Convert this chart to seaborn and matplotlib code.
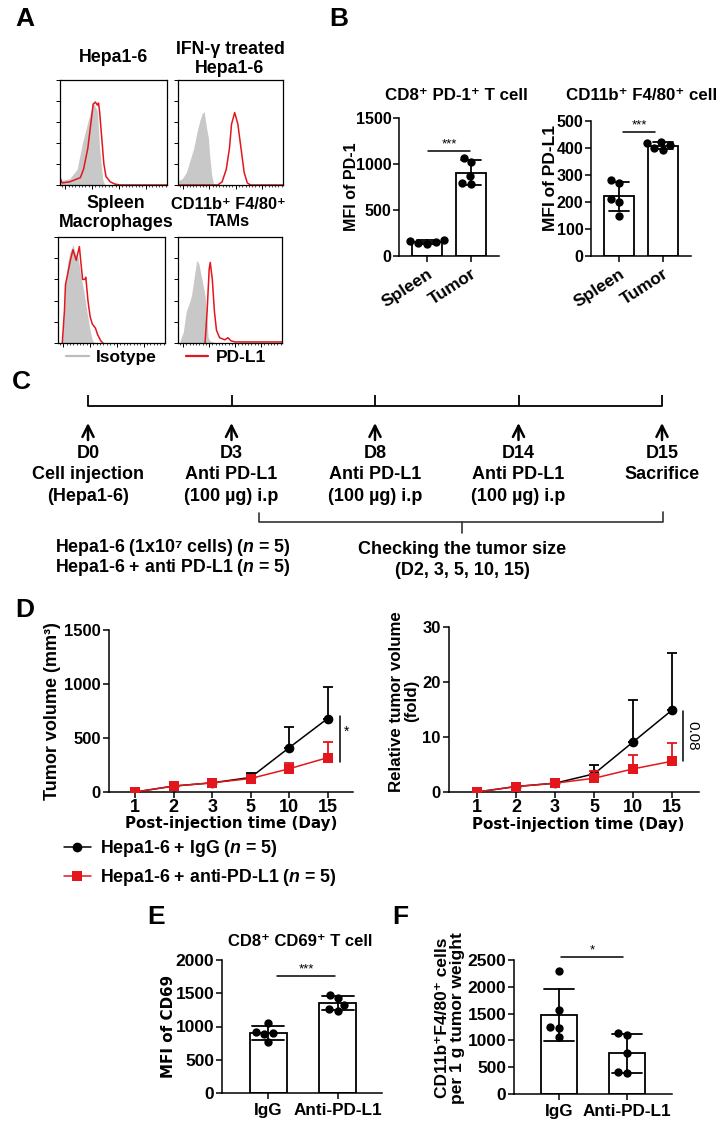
import numpy as np
import pandas as pd
import matplotlib
matplotlib.use("Agg")
import matplotlib.pyplot as plt
from matplotlib.lines import Line2D
from matplotlib.ticker import AutoMinorLocator
import seaborn as sns

sns.set_theme(style="ticks")
plt.rcParams["font.family"] = ["Liberation Sans", "DejaVu Sans"]
plt.rcParams["font.weight"] = "bold"
plt.rcParams["axes.labelweight"] = "bold"
plt.rcParams["mathtext.fontset"] = "custom"
plt.rcParams["mathtext.it"] = "Liberation Sans:italic:bold"
plt.rcParams["mathtext.rm"] = "Liberation Sans:bold"
plt.rcParams["axes.linewidth"] = 1.1
plt.rcParams["xtick.major.width"] = 1.1
plt.rcParams["ytick.major.width"] = 1.1
for k in ["xtick.color", "ytick.color", "axes.edgecolor", "text.color", "axes.labelcolor"]:
    plt.rcParams[k] = "black"

W, H = 728, 1126
WIDE = ["DejaVu Sans"]

# ---------------- Panel A: flow histograms (channel 0-100, normalised count) ----
a_titles = ["Hepa1-6", "IFN-γ treated\nHepa1-6", "Spleen\nMacrophages", "CD11b⁺ F4/80⁺\nTAMs"]
a1_iso_x = [0, 9, 16, 21, 26, 30, 31, 35, 37, 40, 42]
a1_iso_y = [0.04, 0.06, 0.15, 0.40, 0.60, 0.75, 0.79, 0.70, 0.35, 0.05, 0.0]
a1_pdl1_x = [0, 2, 9, 14, 19, 22, 26, 29, 31, 33, 35, 36, 37, 39, 41, 43, 47, 51, 56, 100]
a1_pdl1_y = [0.07, 0.02, 0.03, 0.05, 0.07, 0.15, 0.35, 0.60, 0.77, 0.79, 0.76, 0.78, 0.70, 0.45, 0.20, 0.08, 0.03, 0.01, 0.0, 0.0]
a2_iso_x = [0, 4, 8, 11, 15, 18, 21, 23, 25, 27, 29, 30, 32, 34]
a2_iso_y = [0.04, 0.06, 0.12, 0.22, 0.35, 0.50, 0.62, 0.68, 0.70, 0.55, 0.45, 0.30, 0.10, 0.0]
a2_pdl1_x = [0, 38, 42, 46, 49, 51, 54, 57, 60, 63, 66, 69, 100]
a2_pdl1_y = [0.0, 0.0, 0.03, 0.15, 0.35, 0.58, 0.69, 0.58, 0.35, 0.12, 0.02, 0.0, 0.0]
a3_iso_x = [4, 6, 7, 9, 11, 13, 14, 16, 19, 21, 24, 27, 30, 32, 34]
a3_iso_y = [0.0, 0.30, 0.55, 0.75, 0.85, 0.90, 0.93, 0.85, 0.80, 0.65, 0.50, 0.30, 0.12, 0.03, 0.0]
a3_pdl1_x = [4, 6, 7, 9, 12, 14, 17, 20, 21, 23, 25, 26, 28, 30, 32, 35, 37, 40, 42]
a3_pdl1_y = [0.0, 0.30, 0.55, 0.65, 0.80, 0.88, 0.78, 0.91, 0.80, 0.60, 0.60, 0.62, 0.40, 0.25, 0.18, 0.14, 0.08, 0.02, 0.0]
a4_iso_x = [2, 5, 8, 11, 13, 16, 18, 20, 23, 26, 28, 29, 31, 36]
a4_iso_y = [0.02, 0.10, 0.30, 0.38, 0.45, 0.65, 0.78, 0.75, 0.60, 0.45, 0.20, 0.05, 0.02, 0.0]
a4_pdl1_x = [26, 28, 30, 31, 33, 35, 37, 40, 45, 48, 51, 55, 100]
a4_pdl1_y = [0.0, 0.30, 0.70, 0.76, 0.60, 0.30, 0.12, 0.05, 0.03, 0.05, 0.02, 0.01, 0.01]

# ---------------- Panel B ----------------
b_groups = ["Spleen", "Tumor"]
b1_title = "CD8⁺ PD-1⁺ T cell"
b1_spleen = [140, 165, 150, 172, 132]
b1_tumor = [1070, 1020, 870, 780, 790]
b2_title = "CD11b⁺ F4/80⁺ cell"
b2_spleen = [280, 270, 210, 200, 150]
b2_tumor = [422, 418, 410, 400, 392]

# ---------------- Panel C ----------------
tl_days = ["D0", "D3", "D8", "D14", "D15"]
tl_text = [["Cell injection", "(Hepa1-6)"],
           ["Anti PD-L1", "(100 µg) i.p"],
           ["Anti PD-L1", "(100 µg) i.p"],
           ["Anti PD-L1", "(100 µg) i.p"],
           ["Sacrifice", ""]]

# ---------------- Panel D ----------------
d_days = ["1", "2", "3", "5", "10", "15"]
igg_vol = [0, 55, 85, 135, 410, 680]
igg_vol_sd = [0, 15, 20, 45, 195, 290]
anti_vol = [0, 55, 85, 125, 215, 318]
anti_vol_sd = [0, 12, 15, 25, 50, 145]
igg_rel = [0, 1.0, 1.6, 3.3, 9.1, 14.9]
igg_rel_sd = [0, 0.2, 0.3, 1.7, 7.6, 10.3]
anti_rel = [0, 1.0, 1.6, 2.5, 4.2, 5.6]
anti_rel_sd = [0, 0.2, 0.3, 1.3, 2.6, 3.3]

# ---------------- Panel E / F ----------------
ef_groups = ["IgG", "Anti-PD-L1"]
e_title = "CD8⁺ CD69⁺ T cell"
e_igg = [1050, 920, 900, 880, 770]
e_anti = [1480, 1430, 1330, 1260, 1240]
f_igg = [2290, 1560, 1250, 1230, 1070]
f_anti = [1140, 1110, 760, 410, 390]

RED = "#e3161d"
GRAY = "#c8c8c8"

fig = plt.figure(figsize=(W / 100, H / 100), dpi=100)


def px_axes(l, t, r, b):
    return fig.add_axes([l / W, 1 - b / H, (r - l) / W, (b - t) / H])


def ftext(x, y, s, **kw):
    kw.setdefault("ha", "center")
    kw.setdefault("va", "center")
    return fig.text(x / W, 1 - y / H, s, **kw)


# panel letters
for lab, x, y in [("A", 25, 19), ("B", 339, 19), ("C", 21, 382), ("D", 25, 610), ("E", 156, 917), ("F", 400, 917)]:
    ftext(x, y, lab, fontsize=19, fontweight="bold")

# ---------------- Panel A drawing ----------------
hist_boxes = [(60, 80, 167, 185), (178, 80, 283, 185), (58, 237, 165, 343), (178, 237, 282, 343)]
hist_data = [(a1_iso_x, a1_iso_y, a1_pdl1_x, a1_pdl1_y),
             (a2_iso_x, a2_iso_y, a2_pdl1_x, a2_pdl1_y),
             (a3_iso_x, a3_iso_y, a3_pdl1_x, a3_pdl1_y),
             (a4_iso_x, a4_iso_y, a4_pdl1_x, a4_pdl1_y)]
for box, (gx, gy, rx, ry) in zip(hist_boxes, hist_data):
    ax = px_axes(*box)
    ax.fill_between(gx, gy, color=GRAY, lw=0)
    ax.plot(rx, ry, color=RED, lw=1.1)
    ax.set_xlim(0, 100)
    ax.set_ylim(0, 1)
    for s in ax.spines.values():
        s.set_linewidth(0.9)
    ax.set_yticks(np.linspace(0, 1, 6))
    ax.set_xticks([5, 30, 55, 80])
    ax.xaxis.set_minor_locator(AutoMinorLocator(8))
    ax.tick_params(axis="both", which="major", length=3, width=0.7, labelleft=False, labelbottom=False)
    ax.tick_params(axis="x", which="minor", length=1.5, width=0.5)

title_pos = [(113, 58), (230, 59), (116, 213), (228, 213)]
title_size = [12.8, 12.8, 12.8, 11.8]
for t, (x, y), fs in zip(a_titles, title_pos, title_size):
    ftext(x, y, t, fontsize=fs, fontweight="bold", linespacing=1.15)

leg_h = [Line2D([], [], color="#bdbdbd", lw=1.6), Line2D([], [], color=RED, lw=1.6)]
fig.legend(leg_h, ["Isotype", "PD-L1"], ncol=2, loc="center left",
           bbox_to_anchor=(66 / W, 1 - 357 / H), frameon=False, fontsize=12.5,
           handlelength=1.3, handletextpad=0.4, columnspacing=1.7, borderpad=0, borderaxespad=0)


# ---------------- bar chart helper ----------------
def bar_panel(ax, groups, a, b, width, tick_size):
    df = pd.DataFrame({"group": [groups[0]] * len(a) + [groups[1]] * len(b), "val": a + b})
    sns.barplot(data=df, x="group", y="val", errorbar="sd", capsize=0.45, color="white",
                edgecolor="black", linewidth=1.3, width=width,
                err_kws={"color": "black", "linewidth": 1.3}, ax=ax)
    for ln in ax.lines:
        ln.set_zorder(4)
    sns.swarmplot(data=df, x="group", y="val", color="black", size=6, ax=ax, zorder=3)
    sns.despine(ax=ax)
    ax.set_xlabel("")
    ax.tick_params(axis="both", length=4, width=1.1, labelsize=tick_size)
    ax.tick_params(axis="y", pad=1.5)
    for lab in ax.get_yticklabels() + ax.get_xticklabels():
        lab.set_fontweight("bold")


def sig(ax, x0, x1, y, txt, dy):
    ax.plot([x0, x1], [y, y], color="black", lw=1.1, clip_on=False)
    ax.text((x0 + x1) / 2, y + dy, txt, ha="center", va="bottom", fontsize=9.5, fontweight="normal")


# B left
ax = px_axes(399, 118, 499, 256)
bar_panel(ax, b_groups, b1_spleen, b1_tumor, 0.68, 11.5)
ax.set_ylim(0, 1500)
ax.set_yticks([0, 500, 1000, 1500])
ax.set_xlim(-0.64, 1.64)
ax.set_ylabel("MFI of PD-1", fontsize=11.5)
ax.yaxis.set_label_coords(-0.40, 0.5)
sig(ax, 0.03, 0.97, 1141, "***", 5)
ax.set_xticks([0, 1])
ax.set_xticklabels(b_groups, rotation=33, ha="right", rotation_mode="anchor", fontsize=12.5, fontweight="bold")
ftext(456, 96, b1_title, fontsize=12.2, fontweight="bold")

# B right
ax = px_axes(591, 121, 691, 256)
bar_panel(ax, b_groups, b2_spleen, b2_tumor, 0.68, 11.5)
ax.set_ylim(0, 500)
ax.set_yticks([0, 100, 200, 300, 400, 500])
ax.set_xlim(-0.64, 1.64)
ax.set_ylabel("MFI of PD-L1", fontsize=12.5)
ax.yaxis.set_label_coords(-0.33, 0.58)
sig(ax, 0.1, 0.83, 459, "***", 2)
ax.set_xticks([0, 1])
ax.set_xticklabels(b_groups, rotation=33, ha="right", rotation_mode="anchor", fontsize=12.5, fontweight="bold")
ftext(642, 96, b2_title, fontsize=12.2, fontweight="bold")

# ---------------- Panel C timeline ----------------
axc = px_axes(0, 380, W, 590)
sp = 143.5
axc.set_xlim(-88 / sp, (W - 88) / sp)
axc.set_ylim(590, 380)
axc.axis("off")
tl_pos = np.arange(len(tl_days))
axc.plot([tl_pos[0], tl_pos[-1]], [406, 406], color="black", lw=1.3)
axc.vlines(tl_pos, 395, 406, color="black", lw=1.3)
for p, d, (l1, l2) in zip(tl_pos, tl_days, tl_text):
    axc.annotate("", xy=(p, 423), xytext=(p, 440),
                 arrowprops=dict(arrowstyle="->", lw=1.8, color="black", mutation_scale=20, shrinkA=0, shrinkB=0))
    axc.text(p, 454, d, ha="center", va="center", fontsize=13, fontweight="bold")
    axc.text(p, 475, l1, ha="center", va="center", fontsize=13, fontweight="bold")
    axc.text(p, 497, l2, ha="center", va="center", fontsize=13, fontweight="bold")
bl, bc, br = (259 - 88) / sp, (462 - 88) / sp, (663 - 88) / sp
axc.plot([bl, bl, br, br], [513, 522, 522, 512], color="#333333", lw=1.2)
axc.plot([bc, bc], [522, 533], color="#333333", lw=1.2)
axc.text(bc, 550, "Checking the tumor size", ha="center", va="center", fontsize=13, fontweight="bold")
axc.text(bc, 571, "(D2, 3, 5, 10, 15)", ha="center", va="center", fontsize=13, fontweight="bold")
ftext(55, 547, r"Hepa1-6 (1x10⁷ cells) ($\mathit{n}$ = 5)", ha="left", fontsize=12.8, fontweight="bold")
ftext(55, 568, r"Hepa1-6 + anti PD-L1 ($\mathit{n}$ = 5)", ha="left", fontsize=12.8, fontweight="bold")


# ---------------- Panel D ----------------
def growth(ax, igg, igg_sd, anti, anti_sd):
    pos = np.arange(len(d_days))
    sns.lineplot(x=pos, y=igg, color="black", marker="o", markersize=7, markeredgewidth=0,
                 linewidth=1.1, ax=ax, zorder=3)
    h1 = ax.lines[-1]
    ax.errorbar(pos, igg, yerr=[np.zeros(len(igg)), igg_sd], fmt="none", ecolor="black",
                elinewidth=1.3, capsize=3.5, capthick=1.3, zorder=2)
    sns.lineplot(x=pos, y=anti, color=RED, marker="s", markersize=7, markeredgewidth=0,
                 linewidth=1.1, ax=ax, zorder=5)
    h2 = ax.lines[-1]
    ax.errorbar(pos, anti, yerr=[np.zeros(len(anti)), anti_sd], fmt="none", ecolor=RED,
                elinewidth=1.3, capsize=3.5, capthick=1.3, zorder=4)
    ax.set_xticks(pos)
    ax.set_xticklabels(d_days)
    sns.despine(ax=ax)
    ax.tick_params(axis="y", length=4, width=1.1, labelsize=12, pad=2)
    ax.tick_params(axis="x", length=4, width=1.1, labelsize=13, pad=1)
    for lab in ax.get_yticklabels() + ax.get_xticklabels():
        lab.set_fontweight("bold")
    ax.set_xlabel("Post-injection time (Day)", fontsize=10.9, family=WIDE)
    return h1, h2


ax = px_axes(109, 630, 353, 792)
h1, h2 = growth(ax, igg_vol, igg_vol_sd, anti_vol, anti_vol_sd)
ax.set_ylim(0, 1500)
ax.set_yticks([0, 500, 1000, 1500])
ax.set_xlim(-0.68, 5.66)
ax.set_ylabel("Tumor volume (mm³)", fontsize=13)
ax.yaxis.set_label_coords(-0.198, 0.5)
ax.xaxis.set_label_coords(0.5, -0.15)
ax.plot([5.32, 5.32], [280, 701], color="black", lw=1.1, clip_on=False)
ax.text(5.5, 560, "*", ha="center", va="center", fontsize=10, fontweight="normal")

ax = px_axes(449, 627, 699, 792)
growth(ax, igg_rel, igg_rel_sd, anti_rel, anti_rel_sd)
ax.set_ylim(0, 30)
ax.set_yticks([0, 10, 20, 30])
ax.set_xlim(-0.72, 5.69)
ax.set_ylabel("Relative tumor volume\n(fold)", fontsize=12.2, linespacing=1.0)
ax.yaxis.set_label_coords(-0.12, 0.55)
ax.xaxis.set_label_coords(0.516, -0.15)
ax.plot([5.28, 5.28], [5.6, 14.7], color="black", lw=1.1, clip_on=False)
ax.text(5.52, 10.2, "0.08", ha="center", va="center", rotation=270, fontsize=11, fontweight="normal")

fig.legend([h1, h2], [r"Hepa1-6 + IgG ($\mathit{n}$ = 5)", r"Hepa1-6 + anti-PD-L1 ($\mathit{n}$ = 5)"],
           loc="upper left", bbox_to_anchor=(64 / W, 1 - 838 / H), frameon=False, fontsize=12.8,
           handlelength=1.5, handletextpad=0.5, labelspacing=0.45, borderpad=0, borderaxespad=0)

# ---------------- Panel E ----------------
ax = px_axes(222, 960, 382, 1093)
bar_panel(ax, ef_groups, e_igg, e_anti, 0.53, 12.5)
ax.set_ylim(0, 2000)
ax.set_yticks([0, 500, 1000, 1500, 2000])
ax.set_xlim(-0.66, 1.63)
ax.set_ylabel("MFI of CD69", fontsize=10.9, family=WIDE)
ax.yaxis.set_label_coords(-0.29, 0.5)
ax.set_xticks([0, 1])
ax.set_xticklabels(ef_groups, fontsize=12.3, fontweight="bold")
sig(ax, 0.13, 0.96, 1759, "***", 8)
ftext(300, 942, e_title, fontsize=12, fontweight="bold")

# ---------------- Panel F ----------------
ax = px_axes(514, 960, 672, 1094)
bar_panel(ax, ef_groups, f_igg, f_anti, 0.53, 12.5)
ax.set_ylim(0, 2500)
ax.set_yticks([0, 500, 1000, 1500, 2000, 2500])
ax.set_xlim(-0.66, 1.66)
ax.set_ylabel("CD11b⁺F4/80⁺ cells\nper 1 g tumor weight", fontsize=12.5, linespacing=1.0)
ax.yaxis.set_label_coords(-0.31, 0.57)
ax.set_xticks([0, 1])
ax.set_xticklabels(ef_groups, fontsize=12.3, fontweight="bold")
sig(ax, 0.03, 0.94, 2556, "*", 8)

fig.savefig("out.png", dpi=100, facecolor="white")
